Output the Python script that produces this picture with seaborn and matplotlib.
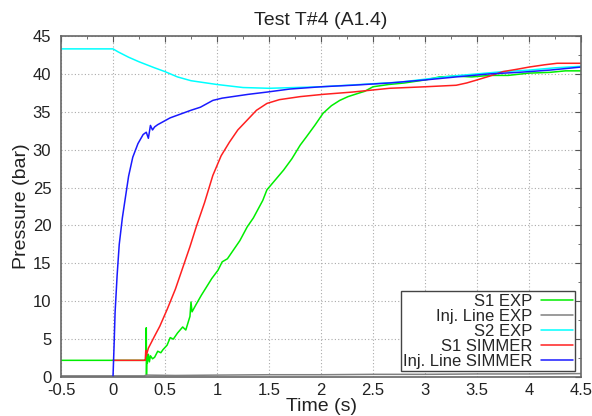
import numpy as np
import pandas as pd
import matplotlib
matplotlib.use("Agg")
import matplotlib.pyplot as plt
from matplotlib.ticker import MultipleLocator
import seaborn as sns

sns.set_style("white")
plt.rcParams['font.family'] = ['Liberation Sans', 'DejaVu Sans']

# S1 EXP (green)
s1_exp_t = [-0.5, 0.0, 0.3, 0.315, 0.32, 0.322, 0.325, 0.33, 0.34, 0.35, 0.36, 0.38, 0.40, 0.43,
            0.46, 0.48, 0.52, 0.55, 0.58, 0.62, 0.67, 0.70, 0.74, 0.75, 0.76, 0.80, 0.85, 0.90,
            0.95, 1.01, 1.05, 1.10, 1.16, 1.22, 1.29, 1.35, 1.44, 1.48, 1.56, 1.64, 1.72, 1.80,
            1.86, 1.94, 2.02, 2.10, 2.18, 2.26, 2.35, 2.42, 2.50, 2.65, 2.80, 3.00, 3.14, 3.30,
            3.45, 3.62, 3.80, 4.00, 4.20, 4.35, 4.50]
s1_exp_p = [2.2, 2.2, 2.2, 2.3, 6.5, 0.3, 3.0, 1.8, 3.0, 2.0, 2.8, 2.4, 2.6, 3.4,
            3.2, 3.6, 4.2, 5.2, 5.0, 5.8, 6.6, 6.2, 8.0, 9.9, 8.6, 9.6, 10.8, 11.9,
            13.0, 14.1, 15.2, 15.6, 16.8, 18.0, 19.8, 21.0, 23.3, 24.7, 26.0, 27.3, 28.8, 30.6,
            31.7, 33.2, 34.8, 35.8, 36.5, 37.0, 37.4, 37.7, 38.3, 38.6, 38.8, 39.2, 39.6, 39.7,
            39.6, 39.8, 39.8, 40.1, 40.2, 40.4, 40.4]

# Inj. Line EXP (gray)
inj_exp_t = [-0.5, 0.0, 0.3, 0.32, 0.6, 1.0, 1.5, 2.0, 2.5, 3.0, 3.5, 4.0, 4.5]
inj_exp_p = [0.15, 0.15, 0.15, 0.25, 0.2, 0.25, 0.3, 0.3, 0.35, 0.35, 0.4, 0.4, 0.45]

# S2 EXP (cyan)
s2_exp_t = [-0.5, 0.0, 0.05, 0.15, 0.25, 0.4, 0.5, 0.62, 0.75, 0.9, 1.0, 1.25, 1.5, 1.75,
            2.0, 2.25, 2.5, 2.75, 3.0, 3.25, 3.5, 3.75, 4.0, 4.25, 4.5]
s2_exp_p = [43.3, 43.3, 42.9, 42.2, 41.6, 40.8, 40.3, 39.6, 39.1, 38.8, 38.6, 38.2, 38.1, 38.2,
            38.3, 38.5, 38.7, 38.9, 39.3, 39.7, 40.0, 40.3, 40.5, 40.8, 41.0]

# S1 SIMMER (red)
s1_sim_t = [0.0, 0.31, 0.315, 0.32, 0.34, 0.40, 0.45, 0.52, 0.60, 0.67, 0.74, 0.80, 0.88, 0.96,
            1.04, 1.12, 1.20, 1.29, 1.38, 1.48, 1.60, 1.80, 2.02, 2.30, 2.66, 3.00, 3.30, 3.40,
            3.50, 3.62, 3.75, 3.88, 4.00, 4.15, 4.27, 4.40, 4.50]
s1_sim_p = [2.2, 2.2, 3.5, 2.8, 3.8, 5.4, 6.7, 8.9, 11.6, 14.4, 17.2, 19.8, 23.0, 26.6,
            29.2, 31.0, 32.6, 33.9, 35.2, 36.1, 36.6, 37.0, 37.3, 37.6, 38.1, 38.3, 38.5, 38.8,
            39.2, 39.7, 40.3, 40.6, 40.9, 41.2, 41.4, 41.4, 41.4]

# Inj. Line SIMMER (blue)
inj_sim_t = [0.0, 0.01, 0.02, 0.04, 0.06, 0.09, 0.115, 0.15, 0.19, 0.24, 0.29, 0.32, 0.34,
             0.36, 0.38, 0.40, 0.43, 0.47, 0.55, 0.67, 0.75, 0.84, 0.96, 1.05, 1.15, 1.30,
             1.48, 1.70, 2.00, 2.30, 2.66, 3.00, 3.30, 3.62, 3.90, 4.20, 4.50]
inj_sim_p = [0.0, 4.0, 8.5, 13.5, 17.5, 21.0, 23.3, 26.5, 29.0, 30.8, 32.0, 32.3, 31.5,
             33.2, 32.6, 33.0, 33.3, 33.6, 34.2, 34.8, 35.2, 35.6, 36.5, 36.8, 37.0, 37.3,
             37.6, 38.0, 38.3, 38.5, 38.8, 39.2, 39.6, 40.0, 40.2, 40.5, 40.9]

labels = ["S1 EXP", "Inj. Line EXP", "S2 EXP", "S1 SIMMER", "Inj. Line SIMMER"]
colors = ["#00ee00", "#808080", "#00ffff", "#ff2020", "#1a1aff"]
series_t = [s1_exp_t, inj_exp_t, s2_exp_t, s1_sim_t, inj_sim_t]
series_p = [s1_exp_p, inj_exp_p, s2_exp_p, s1_sim_p, inj_sim_p]

frames = []
for lab, t, p in zip(labels, series_t, series_p):
    frames.append(pd.DataFrame({"Time": t, "Pressure": p, "Series": lab}))
df = pd.concat(frames, ignore_index=True)

fig = plt.figure(figsize=(5.92, 4.16), dpi=100)
ax = fig.add_axes([61 / 592, 1 - 377 / 416, 520 / 592, 341 / 416])

sns.lineplot(data=df, x="Time", y="Pressure", hue="Series", hue_order=labels,
             palette=dict(zip(labels, colors)), estimator=None, sort=False,
             linewidth=1.1, ax=ax)

ax.set_xlim(-0.5, 4.5)
ax.set_ylim(0, 45)
ax.yaxis.set_major_locator(MultipleLocator(5))
ax.xaxis.set_minor_locator(MultipleLocator(0.25))
ax.yaxis.set_minor_locator(MultipleLocator(2.5))
ax.set_xticks(np.arange(-0.5, 4.51, 0.5))
ax.set_xticklabels(["-0.5", "0", "0.5", "1", "1.5", "2", "2.5", "3", "3.5", "4", "4.5"])
ax.tick_params(which="both", direction="in", top=True, right=True, colors="#555555",
               labelcolor="#222222", labelsize=12)
ax.tick_params(axis="x", pad=4)
ax.tick_params(axis="y", pad=7)
ax.tick_params(which="major", length=4)
ax.tick_params(which="minor", length=2)
ax.grid(True, which="major", linestyle=(0, (1, 2)), color="#aaaaaa", linewidth=0.8)
for s in ax.spines.values():
    s.set_color("#666666")
    s.set_linewidth(1.2)

ax.set_xlabel("Time (s)", fontsize=14, labelpad=0, color="#222222")
ax.set_ylabel("Pressure (bar)", fontsize=14, labelpad=2, color="#222222")
ax.set_title("Test T#4 (A1.4)", fontsize=14, pad=8, color="#222222")

leg = ax.legend(loc="lower right", markerfirst=False, fontsize=12, frameon=True,
                fancybox=False, edgecolor="#444444", framealpha=1, borderpad=0.15,
                labelspacing=0.0, handlelength=1.9, handletextpad=0.5,
                borderaxespad=0.35, title=None)
leg.get_frame().set_linewidth(1.0)

fig.savefig("out.png", dpi=100)
